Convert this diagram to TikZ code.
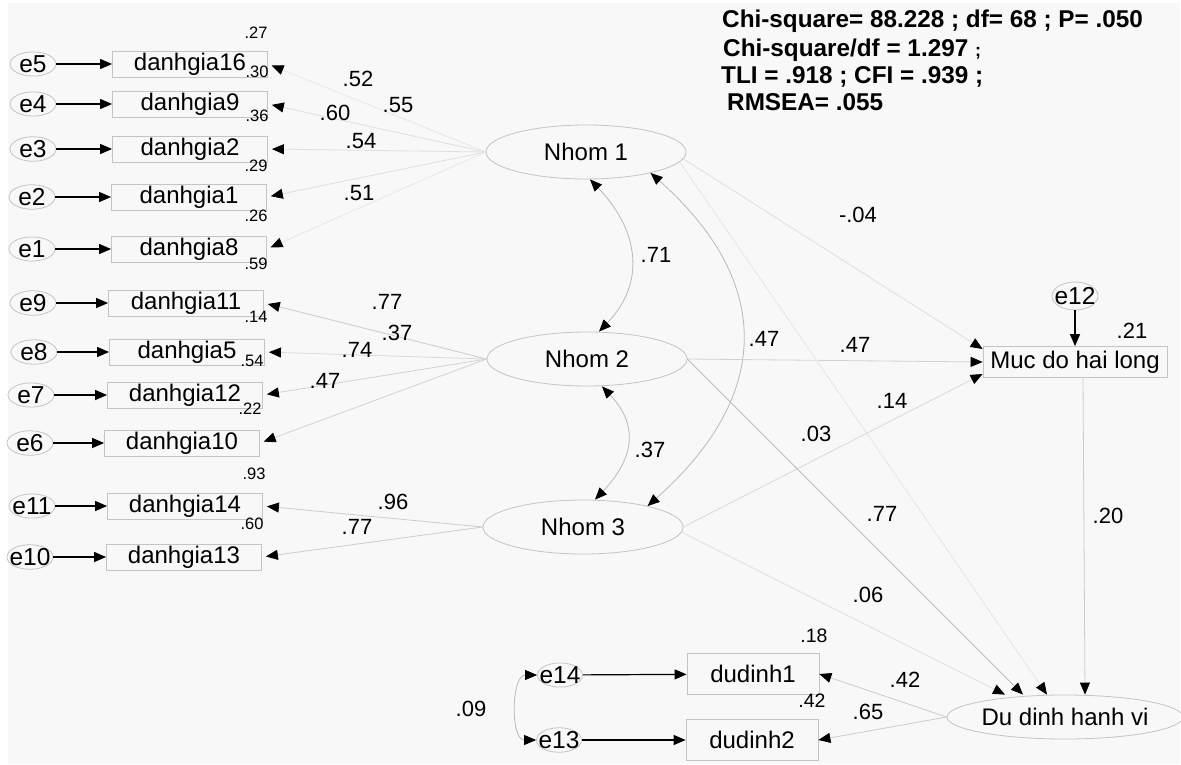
\documentclass[tikz,border=0pt]{standalone}
\usepackage{fontspec}
\setmainfont{Liberation Sans}
\usetikzlibrary{shapes.geometric, arrows.meta}
\definecolor{bggray}{HTML}{F8F8F8}
\definecolor{boxgray}{HTML}{C4C4C4}

\begin{document}
\begin{tikzpicture}[x=1pt, y=-1pt,
    obs/.style={rectangle, draw=boxgray, line width=0.8pt, minimum width=155pt, minimum height=26pt, inner sep=0pt, font=\fontsize{24}{24}\selectfont},
    err/.style={ellipse, draw=boxgray, line width=0.8pt, minimum width=46pt, minimum height=24pt, inner sep=0pt, font=\fontsize{24.5}{24.5}\selectfont},
    lat/.style={ellipse, draw=boxgray, line width=0.8pt, minimum width=200pt, minimum height=54pt, inner sep=0pt, font=\fontsize{24}{24}\selectfont},
    coef/.style={inner sep=0pt, font=\fontsize{22}{22}\selectfont},
    rsq/.style={inner sep=0pt, font=\fontsize{16.5}{16.5}\selectfont},
    fitstat/.style={anchor=base west, inner sep=0pt, font=\bfseries\fontsize{24.3}{24.3}\selectfont},
    errarrow/.style={-{Triangle[length=12pt, width=10pt]}, line width=1.2pt, black},
    loading/.style={-{Triangle[length=12pt, width=10pt, color=black]}, line width=0.8pt, shorten >=4pt},
    cov/.style={{Triangle[length=12pt, width=10pt, color=black]}-{Triangle[length=12pt, width=10pt, color=black]}, line width=0.8pt, draw=gray!55},
]
    % --- Fond ---
    \useasboundingbox (0,0) rectangle (1181,764);
    \fill[white] (0,0) rectangle (1181,764);
    \fill[bggray] (8,3) rectangle (1180,764);

    % --- Indices d'ajustement ---
    \node[fitstat] (chi) at (722,27) {Chi-square= 88.228 ; df= 68 ; P= .050};
    \node[fitstat] (chidf) at (723,56) {Chi-square/df = 1.297 {\fontsize{18}{18}\selectfont;}};
    \node[fitstat] (tli) at (721,83) {TLI = .918 ; CFI = .939 ;};
    \node[fitstat] (rmsea) at (727,110) {RMSEA= .055};

    % --- Variables observées ---
    \node[obs] (d16) at (190,64) {danhgia16};
    \node[obs] (d9) at (190,104) {danhgia9};
    \node[obs] (d2) at (190,149) {danhgia2};
    \node[obs] (d1) at (189,197) {danhgia1};
    \node[obs] (d8) at (189,249) {danhgia8};
    \node[obs] (d11) at (186,303) {danhgia11};
    \node[obs] (d5) at (187,352) {danhgia5};
    \node[obs] (d12) at (185,395) {danhgia12};
    \node[obs] (d10) at (182,443) {danhgia10};
    \node[obs] (d14) at (185,506) {danhgia14};
    \node[obs] (d13) at (184,557) {danhgia13};

    % --- Termes d'erreur ---
    \node[err] (e5) at (33,64) {\makebox[0pt]{e5}};
    \node[err] (e4) at (33,104) {\makebox[0pt]{e4}};
    \node[err] (e3) at (33,149) {\makebox[0pt]{e3}};
    \node[err] (e2) at (32,197) {\makebox[0pt]{e2}};
    \node[err] (e1) at (32,249) {\makebox[0pt]{e1}};
    \node[err] (e9) at (33,303) {\makebox[0pt]{e9}};
    \node[err] (e8) at (34,352) {\makebox[0pt]{e8}};
    \node[err] (e7) at (31,395) {\makebox[0pt]{e7}};
    \node[err] (e6) at (30,443) {\makebox[0pt]{e6}};
    \node[err] (e11) at (32,506) {\makebox[0pt]{e11}};
    \node[err] (e10) at (30,557) {\makebox[0pt]{e10}};
    \draw[errarrow] (e5) -- (d16);
    \draw[errarrow] (e4) -- (d9);
    \draw[errarrow] (e3) -- (d2);
    \draw[errarrow] (e2) -- (d1);
    \draw[errarrow] (e1) -- (d8);
    \draw[errarrow] (e9) -- (d11);
    \draw[errarrow] (e8) -- (d5);
    \draw[errarrow] (e7) -- (d12);
    \draw[errarrow] (e6) -- (d10);
    \draw[errarrow] (e11) -- (d14);
    \draw[errarrow] (e10) -- (d13);

    % --- Variables latentes ---
    \node[lat] (n1) at (586,152) {Nhom 1};
    \node[lat] (n2) at (587,359) {Nhom 2};
    \node[lat] (n3) at (583,527) {Nhom 3};
    \node[obs, minimum width=184pt, minimum height=31pt, font=\fontsize{24}{24}\selectfont] (muc) at (1075,362) {Muc do hai long};
    \node[err, minimum height=28pt] (e12) at (1075,296) {\makebox[0pt]{e12}};
    \node[lat, minimum width=232pt, minimum height=44pt] (dd) at (1065,717) {Du dinh hanh vi};
    \node[obs, minimum width=132pt, minimum height=41pt] (du1) at (753,674) {dudinh1};
    \node[obs, minimum width=132pt, minimum height=41pt] (du2) at (752,740) {dudinh2};
    \node[err, minimum width=45pt] (e14) at (560,675) {\makebox[0pt]{e14}};
    \node[err, minimum width=45pt] (e13) at (559,740) {\makebox[0pt]{e13}};

    % --- Saturations Nhom 1 ---
    \draw[loading, gray!18] (n1.west) -- (d16.east);
    \draw[loading, gray!25] (n1.west) -- (d9.east);
    \draw[loading, gray!25] (n1.west) -- (d2.east);
    \draw[loading, gray!25] (n1.west) -- (d1.east);
    \draw[loading, gray!18] (n1.west) -- (d8.east);
    % --- Saturations Nhom 2 ---
    \draw[loading, gray!40] (n2.west) -- (d11.east);
    \draw[loading, gray!30] (n2.west) -- (d5.east);
    \draw[loading, gray!35] (n2.west) -- (d12.east);
    \draw[loading, gray!35] (n2.west) -- (d10.east);
    % --- Saturations Nhom 3 ---
    \draw[loading, gray!40] (n3.west) -- (d14.east);
    \draw[loading, gray!40] (n3.west) -- (d13.east);

    % --- Covariances ---
    \draw[cov] ([xshift=4pt]n1.south) .. controls +(48,50) and +(48,-50) .. ([xshift=12pt]n2.north);
    \draw[cov] ([xshift=15pt]n2.south) .. controls +(38,40) and +(38,-40) .. ([xshift=12pt]n3.north);
    \draw[cov] (n1.-18) .. controls +(124,110) and +(124,-110) .. (n3.18);
    \draw[cov] (e14.west) .. controls ([xshift=-26pt]e14.west) and ([xshift=-26pt]e13.west) .. (e13.west);

    % --- Relations structurelles ---
    \draw[loading, shorten >=0pt, gray!25] (n1.-4) -- ([yshift=13pt]muc.west);
    \draw[loading, shorten >=0pt, gray!35] (n2.east) -- (muc.west);
    \draw[loading, shorten >=0pt, gray!30] (n3.east) -- ([yshift=-12pt]muc.west);
    \draw[loading, shorten >=0pt, gray!20] (n1.-6) -- ([xshift=-18pt]dd.north);
    \draw[loading, shorten >=0pt, gray!60] (n2.east) -- ([xshift=-42pt]dd.north);
    \draw[loading, shorten >=0pt, gray!25] (n3.-3) -- ([xshift=-60pt]dd.north);
    \draw[loading, shorten >=0pt, gray!40] ([xshift=8pt]muc.south) -- ([xshift=20pt]dd.north);
    \draw[errarrow] (e12) -- (muc);
    \draw[loading, shorten >=0pt, gray!40] (dd.west) -- (du1.east);
    \draw[loading, shorten >=0pt, gray!40] (dd.west) -- (du2.east);
    \draw[errarrow] (e14) -- (du1);
    \draw[errarrow] (e13) -- (du2);

    % --- Coefficients ---
    \node[coef] (c16) at (358,79) {.52};
    \node[coef] (c9) at (398,105) {.55};
    \node[coef] (c2) at (335,113) {.60};
    \node[coef] (c1) at (361,141) {.54};
    \node[coef] (c8) at (359,193) {.51};
    \node[coef] (c11) at (387,302) {.77};
    \node[coef] (c5) at (397,333) {.37};
    \node[coef] (c12) at (357,350) {.74};
    \node[coef] (c10) at (325,381) {.47};
    \node[coef] (c14) at (393,502) {.96};
    \node[coef] (c13) at (357,527) {.77};
    \node[coef] (cn12) at (656,255) {.71};
    \node[coef] (cn23) at (650,450) {.37};
    \node[coef] (cn13) at (764,339) {.47};
    \node[coef] (cm1) at (858,215) {-.04};
    \node[coef] (cm2) at (855,345) {.47};
    \node[coef] (cm3) at (892,401) {.14};
    \node[coef] (cd1) at (816,434) {.03};
    \node[coef] (cd2) at (882,514) {.77};
    \node[coef] (cd3) at (868,595) {.06};
    \node[coef] (cdm) at (1108,516) {.20};
    \node[coef] (cu1) at (905,680) {.42};
    \node[coef] (cu2) at (868,712) {.65};
    \node[coef] (ce) at (471,709) {.09};

    % --- R carré ---
    \node[rsq] (r16) at (256,33) {.27};
    \node[rsq] (r9) at (257,72) {.30};
    \node[rsq] (r2) at (257,116) {.36};
    \node[rsq] (r1) at (256,166) {.29};
    \node[rsq] (r8) at (256,216) {.26};
    \node[rsq] (r11) at (256,264) {.59};
    \node[rsq] (r5) at (256,317) {.14};
    \node[rsq] (r12) at (252,361) {.54};
    \node[rsq] (r10) at (250,409) {.22};
    \node[rsq] (r14) at (254,474) {.93};
    \node[rsq] (r13) at (252,524) {.60};
    \node[rsq, font=\fontsize{22}{22}\selectfont] (rm) at (1132,331) {.21};
    \node[rsq, font=\fontsize{19.5}{19.5}\selectfont] (ru1) at (814,636) {.18};
    \node[rsq, font=\fontsize{19.5}{19.5}\selectfont] (ru2) at (812,701) {.42};
\end{tikzpicture}
\end{document}
